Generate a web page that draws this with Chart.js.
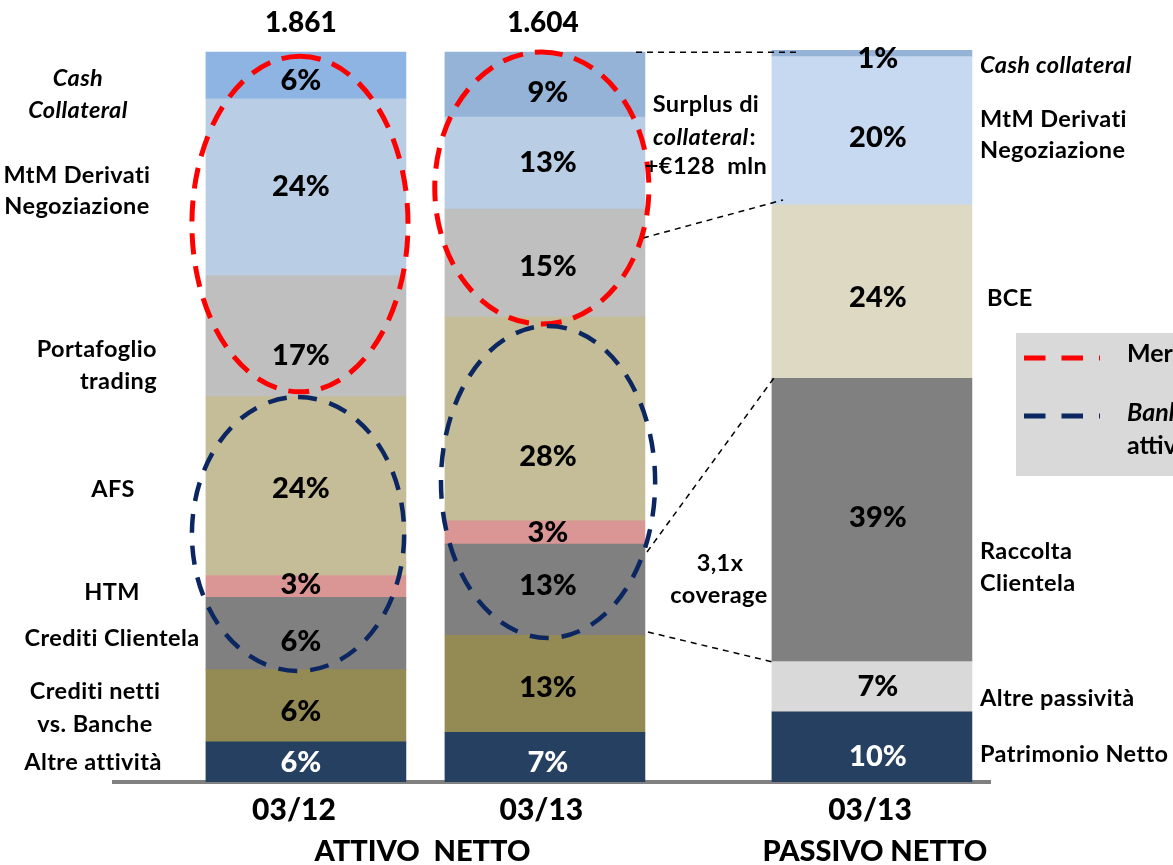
<!DOCTYPE html>
<html>
<head>
<meta charset="utf-8">
<script src="https://cdn.jsdelivr.net/npm/chart.js@4.4.1/dist/chart.umd.min.js"></script>
<style>
html, body { margin: 0; padding: 0; background: #ffffff; }
#wrap { width: 1173px; height: 865px; position: relative; }
</style>
</head>
<body>
<div id="wrap"><canvas id="c"></canvas></div>
<script>
// ---------------- DATA ----------------
const categories = ['03/12', '03/13', '03/13'];
const groupLabels = ['ATTIVO  NETTO', 'PASSIVO NETTO'];
const totals = ['1.861', '1.604'];

// Attivo netto (bottom -> top), share of bar height
const assetSeries = ['Altre attività', 'Crediti netti vs. Banche', 'Crediti Clientela', 'HTM', 'AFS',
  'Portafoglio trading', 'MtM Derivati Negoziazione', 'Cash Collateral'];
const assets0312 = [5.5, 9.9, 9.9, 3.0, 24.5, 16.6, 24.2, 6.4];
const assets0313 = [6.8, 13.3, 12.5, 3.2, 27.9, 14.8, 12.6, 8.9];
const assetLabels0312 = ['6%', '6%', '6%', '3%', '24%', '17%', '24%', '6%'];
const assetLabels0313 = ['7%', '13%', '13%', '3%', '28%', '15%', '13%', '9%'];

// Passivo netto (bottom -> top)
const liabSeries = ['Patrimonio Netto', 'Altre passività', 'Raccolta Clientela', 'BCE',
  'MtM Derivati Negoziazione', 'Cash collateral'];
const liab0313 = [9.6, 6.9, 38.8, 23.8, 20.3, 0.9];
const liabLabels0313 = ['10%', '7%', '39%', '24%', '20%', '1%'];

const legendTexts = [['Mercati'], ['Banking', 'attività']];

// ---------------- STYLE / LAYOUT ----------------
const FONT = 'Lato, "Open Sans", sans-serif';
const SIDE_FONT = 'bold 23.5px ' + FONT;
const SIDE_FONT_IT = 'italic bold 23.5px ' + FONT;
const xPos = [0, 1, 2.368];            // bar centres on the x scale
const xMin = -0.803, xMax = 2.862;
const yMax = 100.3;

const assetColors0312 = ['#254061', '#948A54', '#808080', '#D99694', '#C4BD97', '#BFBFBF', '#B9CDE5', '#8EB4E3'];
const assetColors0313 = ['#254061', '#948A54', '#808080', '#D99694', '#C4BD97', '#BFBFBF', '#B9CDE5', '#95B3D7'];
const liabColors = ['#254061', '#D9D9D9', '#808080', '#DDD9C3', '#C6D9F1', '#95B3D7'];

const labelDy0312 = [1, 6, 8, -2, 3, 20, -1, 5.5];
const labelDy0313 = [5, 4, -4, 0, 38, 4, 0, 8];
const labelDyLiab = [10, 0, -2, 6, 7, 5];
const labelDx = [-5, 3, 6];

// ellipses in scale units: [cx, cy, rx, ry]
const redEllipses = [[-0.025, 76.46, 0.452, 23.0], [0.987, 81.39, 0.448, 18.64]];
const navyEllipses = [[-0.033, 33.98, 0.444, 18.77], [1.013, 41.11, 0.448, 21.38]];
// connector lines in scale units: [x1, y1, x2, y2]
const connectors = [
  [1.381, 100.0, 2.059, 100.0],
  [1.410, 74.54, 1.996, 79.75],
  [1.427, 31.52, 1.958, 55.36],
  [1.431, 20.55, 1.954, 16.44]
];

const sideText = [
  { t: 'Cash', x: 78, y: 78, al: 'center', it: true },
  { t: 'Collateral', x: 78, y: 110, al: 'center', it: true },
  { t: 'MtM Derivati', x: 77, y: 175 },
  { t: 'Negoziazione', x: 77, y: 206 },
  { t: 'Portafoglio', x: 157, y: 349, al: 'right' },
  { t: 'trading', x: 157, y: 381, al: 'right' },
  { t: 'AFS', x: 113, y: 489 },
  { t: 'HTM', x: 112, y: 592 },
  { t: 'Crediti Clientela', x: 112, y: 638 },
  { t: 'Crediti netti', x: 95, y: 691 },
  { t: 'vs. Banche', x: 95, y: 724 },
  { t: 'Altre attività', x: 93, y: 762 },
  { t: 'Surplus di', x: 706, y: 104 },
  { t: '+€128  mln', x: 706, y: 166 },
  { t: '3,1x', x: 720, y: 563 },
  { t: 'coverage', x: 719, y: 595 },
  { t: 'Cash collateral', x: 980, y: 65, al: 'left', it: true },
  { t: 'MtM Derivati', x: 980, y: 119, al: 'left' },
  { t: 'Negoziazione', x: 980, y: 150, al: 'left' },
  { t: 'BCE', x: 987, y: 298, al: 'left' },
  { t: 'Raccolta', x: 980, y: 551, al: 'left' },
  { t: 'Clientela', x: 980, y: 583, al: 'left' },
  { t: 'Altre passività', x: 980, y: 698, al: 'left' },
  { t: 'Patrimonio Netto', x: 980, y: 754, al: 'left' }
];

// ---------------- DATASETS ----------------
const datasets = [];
assetSeries.forEach((name, i) => {
  datasets.push({
    label: name,
    data: [{ x: xPos[0], y: assets0312[i] }, { x: xPos[1], y: assets0313[i] }],
    backgroundColor: [assetColors0312[i], assetColors0313[i]],
    valueLabels: [assetLabels0312[i], assetLabels0313[i]],
    labelDy: [labelDy0312[i], labelDy0313[i]],
    labelDx: [labelDx[0], labelDx[1]],
    labelColor: i === 0 ? '#ffffff' : '#000000'
  });
});
liabSeries.forEach((name, i) => {
  datasets.push({
    label: name,
    data: [{ x: xPos[2], y: liab0313[i] }],
    backgroundColor: [liabColors[i]],
    valueLabels: [liabLabels0313[i]],
    labelDy: [labelDyLiab[i]],
    labelDx: [labelDx[2]],
    labelColor: i === 0 ? '#ffffff' : '#000000'
  });
});

function dashedEllipse(ctx, xs, ys, e, color, width, dash) {
  const ux = Math.abs(xs.getPixelForValue(1) - xs.getPixelForValue(0));
  const uy = Math.abs(ys.getPixelForValue(0) - ys.getPixelForValue(1));
  ctx.save();
  ctx.strokeStyle = color;
  ctx.lineWidth = width;
  ctx.setLineDash(dash);
  ctx.beginPath();
  ctx.ellipse(xs.getPixelForValue(e[0]), ys.getPixelForValue(e[1]), e[2] * ux, e[3] * uy, 0, -Math.PI / 2, Math.PI * 1.5);
  ctx.stroke();
  ctx.restore();
}

const annotPlugin = {
  id: 'annot',
  afterDatasetsDraw(chart) {
    const ctx = chart.ctx;
    const xs = chart.scales.x, ys = chart.scales.y;

    // value labels inside segments
    ctx.save();
    ctx.font = '900 29px ' + FONT;
    ctx.textAlign = 'center';
    ctx.textBaseline = 'middle';
    chart.data.datasets.forEach((ds, di) => {
      const meta = chart.getDatasetMeta(di);
      meta.data.forEach((el, i) => {
        const p = el.getProps(['x', 'y', 'base'], true);
        ctx.fillStyle = ds.labelColor;
        ctx.fillText(ds.valueLabels[i], p.x + ds.labelDx[i], (p.y + p.base) / 2 + ds.labelDy[i]);
      });
    });
    ctx.restore();

    // totals above the asset bars
    ctx.save();
    ctx.font = '900 28px ' + FONT;
    ctx.fillStyle = '#000';
    ctx.textAlign = 'center';
    ctx.textBaseline = 'middle';
    totals.forEach((t, i) => {
      ctx.fillText(t, xs.getPixelForValue(xPos[i]) - (i === 0 ? 5 : 2), ys.getPixelForValue(yMax) - 27);
    });
    ctx.restore();

    // connectors
    ctx.save();
    ctx.strokeStyle = '#000';
    ctx.lineWidth = 1.5;
    ctx.setLineDash([6, 5]);
    connectors.forEach(c => {
      ctx.beginPath();
      ctx.moveTo(xs.getPixelForValue(c[0]), ys.getPixelForValue(c[1]));
      ctx.lineTo(xs.getPixelForValue(c[2]), ys.getPixelForValue(c[3]));
      ctx.stroke();
    });
    ctx.restore();

    // ellipses
    redEllipses.forEach(e => dashedEllipse(ctx, xs, ys, e, '#FF0000', 5, [21, 12]));
    navyEllipses.forEach(e => dashedEllipse(ctx, xs, ys, e, '#0B2661', 4.5, [19, 13]));

    // side texts
    ctx.save();
    ctx.fillStyle = '#000';
    ctx.textBaseline = 'middle';
    try { ctx.letterSpacing = '0.4px'; } catch (e) {}
    sideText.forEach(s => {
      ctx.font = s.it ? SIDE_FONT_IT : SIDE_FONT;
      ctx.textAlign = s.al || 'center';
      ctx.fillText(s.t, s.x, s.y);
    });
    // "collateral:" mixed style
    const itPart = 'collateral', rgPart = ':';
    ctx.font = SIDE_FONT_IT;
    const w1 = ctx.measureText(itPart).width;
    ctx.font = SIDE_FONT;
    const w2 = ctx.measureText(rgPart).width;
    const startX = 704 - (w1 + w2) / 2;
    ctx.textAlign = 'left';
    ctx.font = SIDE_FONT_IT;
    ctx.fillText(itPart, startX, 137);
    ctx.font = SIDE_FONT;
    ctx.fillText(rgPart, startX + w1 + 1, 137);
    ctx.restore();

    // group labels
    ctx.save();
    ctx.fillStyle = '#000';
    ctx.font = '900 29px ' + FONT;
    ctx.textAlign = 'center';
    ctx.textBaseline = 'middle';
    const midA = (xs.getPixelForValue(xPos[0]) + xs.getPixelForValue(xPos[1])) / 2 - 3;
    ctx.fillText(groupLabels[0], midA, 852);
    ctx.fillText(groupLabels[1], xs.getPixelForValue(xPos[2]) + 3, 852);
    ctx.restore();

    // legend box (cut by the right edge)
    ctx.save();
    ctx.fillStyle = '#D9D9D9';
    ctx.fillRect(1016, 333, 200, 143);
    ctx.lineWidth = 5;
    ctx.setLineDash([21.5, 16]);
    ctx.strokeStyle = '#FF0000';
    ctx.beginPath(); ctx.moveTo(1024, 358); ctx.lineTo(1100, 358); ctx.stroke();
    ctx.strokeStyle = '#0B2661';
    ctx.beginPath(); ctx.moveTo(1024, 416); ctx.lineTo(1100, 416); ctx.stroke();
    ctx.setLineDash([]);
    ctx.fillStyle = '#000';
    ctx.textAlign = 'left';
    ctx.textBaseline = 'middle';
    ctx.font = 'bold 25px ' + FONT;
    ctx.fillText(legendTexts[0][0], 1127, 354);
    ctx.font = 'italic bold 25px ' + FONT;
    ctx.fillText(legendTexts[1][0], 1127, 413);
    ctx.font = 'bold 25px ' + FONT;
    ctx.fillText(legendTexts[1][1], 1127, 446);
    ctx.restore();
  }
};

const tickPos = [xPos[0] - 0.05, xPos[1] - 0.015, xPos[2] - 0.008];

new Chart(document.getElementById('c'), {
  type: 'bar',
  data: { datasets },
  options: {
    responsive: true,
    maintainAspectRatio: false,
    animation: false,
    devicePixelRatio: 1,
    barThickness: 200,
    borderWidth: 0,
    layout: { padding: { top: 50, left: 114, right: 183, bottom: 0 } },
    plugins: { legend: { display: false }, tooltip: { enabled: false } },
    scales: {
      x: {
        type: 'linear',
        min: xMin, max: xMax,
        offset: false,
        stacked: true,
        grid: { display: false, drawTicks: false },
        border: { display: true, color: '#808080', width: 4 },
        afterBuildTicks: s => { s.ticks = tickPos.map(v => ({ value: v })); },
        afterFit: s => { s.height = 83; },
        ticks: {
          autoSkip: false, maxRotation: 0, padding: 10, color: '#000',
          font: { family: FONT, weight: '900', size: 30 },
          callback: (v, i) => categories[i]
        }
      },
      y: {
        type: 'linear', min: 0, max: yMax, stacked: true, display: false
      }
    }
  },
  plugins: [annotPlugin]
});
</script>
</body>
</html>
